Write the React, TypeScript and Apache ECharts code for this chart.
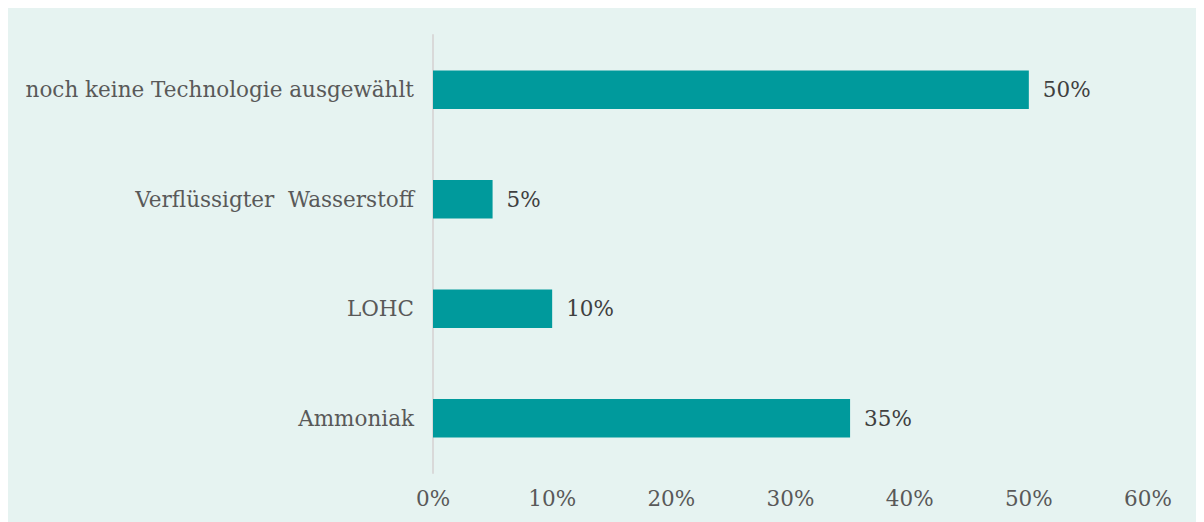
import React, { useEffect, useRef } from "react";
import * as echarts from "echarts";

const categories = ["Ammoniak", "LOHC", "Verflüssigter  Wasserstoff", "noch keine Technologie ausgewählt"];
const values = [35, 10, 5, 50];
const xTicks = [0, 10, 20, 30, 40, 50, 60];

const FONT = "DejaVu Serif";
const FS = 21.5;

export default function App() {
  const ref = useRef<HTMLDivElement>(null);
  useEffect(() => {
    if (!ref.current) return;
    const chart = echarts.init(ref.current, undefined, { renderer: "svg" });
    chart.setOption({
      animation: false,
      backgroundColor: "#e6f3f1",
      grid: { left: 425, right: 48, top: 27, bottom: 49, containLabel: false },
      xAxis: {
        type: "value",
        min: xTicks[0],
        max: xTicks[xTicks.length - 1],
        interval: 10,
        axisLine: { show: false },
        axisTick: { show: false },
        splitLine: { show: false },
        axisLabel: {
          formatter: (v: number) => v + "%",
          color: "#595959",
          fontFamily: FONT,
          fontSize: FS,
          margin: 14,
        },
      },
      yAxis: {
        type: "category",
        data: categories,
        axisLine: { show: true, lineStyle: { color: "#d9d9d9", width: 2 } },
        axisTick: { show: false },
        axisLabel: {
          color: "#595959",
          fontFamily: FONT,
          fontSize: FS,
          margin: 19,
        },
      },
      series: [
        {
          type: "bar",
          data: values,
          barWidth: "35%",
          itemStyle: { color: "#009a9c" },
          label: {
            show: true,
            position: "right",
            distance: 14,
            formatter: (p: any) => p.value + "%",
            color: "#404040",
            fontFamily: FONT,
            fontSize: FS,
          },
        },
      ],
    });
    return () => chart.dispose();
  }, []);
  return <div ref={ref} style={{ width: "100%", height: 514 }} />;
}
